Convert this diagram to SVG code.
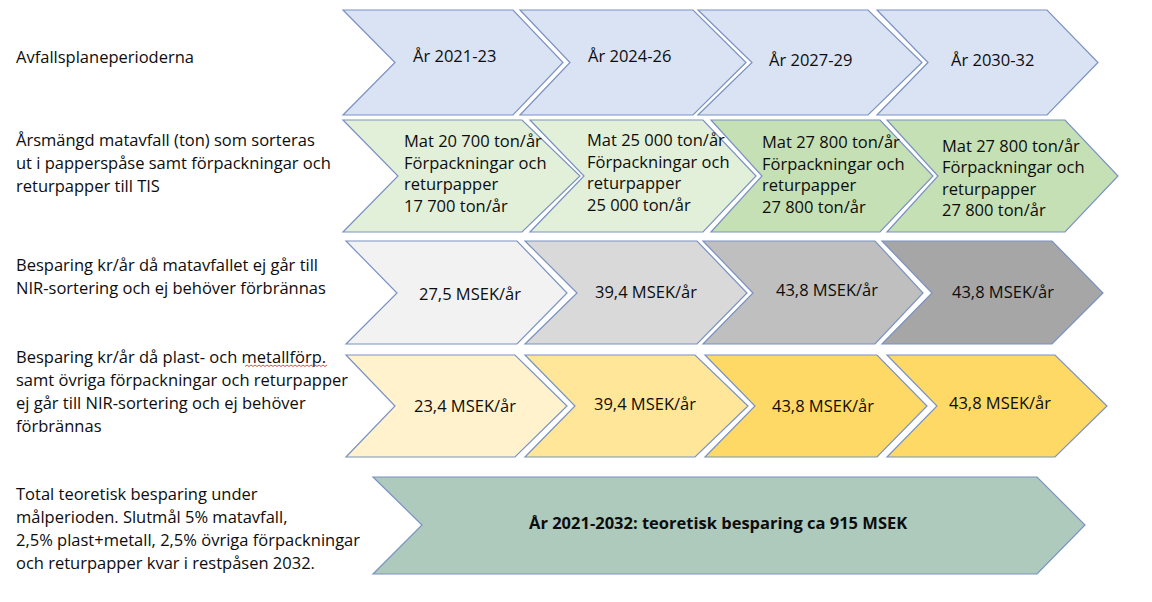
<svg xmlns="http://www.w3.org/2000/svg" width="1152" height="602" viewBox="0 0 1152 602">
<style>
.lbl{font-family:"Open Sans","Liberation Sans",sans-serif;font-size:16.5px;fill:#0d0d0d}
.ch{stroke:#7a92c2;stroke-width:1.2;stroke-linejoin:miter}
.b{font-weight:bold}
.r1{fill:#dae3f3}
.g1{fill:#e2f0d9}.g2{fill:#c5e0b4}
.k1{fill:#f2f2f2}.k2{fill:#d9d9d9}.k3{fill:#bfbfbf}.k4{fill:#a6a6a6}
.y1{fill:#fff2cc}.y2{fill:#ffe699}.y3{fill:#ffd966}
.t1{fill:#aecabd}
</style>
<rect width="1152" height="602" fill="#ffffff"/>
<g id="row-labels">
<text class="lbl" x="16" y="63">Avfallsplaneperioderna</text>
<text class="lbl" x="16" y="145.5">Årsmängd matavfall (ton) som sorteras</text>
<text class="lbl" x="16" y="168.5">ut i papperspåse samt förpackningar och</text>
<text class="lbl" x="16" y="191.5">returpapper till TIS</text>
<text class="lbl" x="16" y="270.5">Besparing kr/år då matavfallet ej går till</text>
<text class="lbl" x="16" y="293.5">NIR-sortering och ej behöver förbrännas</text>
<text class="lbl" x="16" y="362.5">Besparing kr/år då plast- och metallförp.</text>
<text class="lbl" x="16" y="385.5">samt övriga förpackningar och returpapper</text>
<text class="lbl" x="16" y="408.5">ej går till NIR-sortering och ej behöver</text>
<text class="lbl" x="16" y="431.5">förbrännas</text>
<path d="M245,366.5 l2,-1.5 2,1.5 2,-1.5 2,1.5 2,-1.5 2,1.5 2,-1.5 2,1.5 2,-1.5 2,1.5 2,-1.5 2,1.5 2,-1.5 2,1.5 2,-1.5 2,1.5 2,-1.5 2,1.5 2,-1.5 2,1.5 2,-1.5 2,1.5 2,-1.5 2,1.5 2,-1.5 2,1.5 2,-1.5 2,1.5 2,-1.5 2,1.5 2,-1.5 2,1.5 2,-1.5 2,1.5 2,-1.5 2,1.5 2,-1.5 2,1.5 2,-1.5 2,1.5 2,-1.5" fill="none" stroke="#e02020" stroke-width="0.8"/>
<text class="lbl" x="16" y="500">Total teoretisk besparing under</text>
<text class="lbl" x="16" y="523">målperioden. Slutmål 5% matavfall,</text>
<text class="lbl" x="16" y="546">2,5% plast+metall, 2,5% övriga förpackningar</text>
<text class="lbl" x="16" y="569">och returpapper kvar i restpåsen 2032.</text>
</g>
<g id="period-2021-23"><polygon class="ch r1" points="343,10 513,10 563,62.5 513,115 343,115 395,62.5"/><text class="lbl" x="413" y="62">År 2021-23</text></g>
<g id="period-2024-26"><polygon class="ch r1" points="520,10 693,10 746,62.5 693,115 520,115 570,62.5"/><text class="lbl" x="588" y="62">År 2024-26</text></g>
<g id="period-2027-29"><polygon class="ch r1" points="698,10 868,10 922,62.5 868,115 698,115 752,62.5"/><text class="lbl" x="769" y="66">År 2027-29</text></g>
<g id="period-2030-32"><polygon class="ch r1" points="877,10 1047,10 1098,62.5 1047,115 877,115 928,62.5"/><text class="lbl" x="951" y="66">År 2030-32</text></g>

<g id="mangd-1"><polygon class="ch g1" points="343,120 522,120 580,176 522,232 343,232 398,176"/>
<text class="lbl" x="404" y="147">Mat 20 700 ton/år</text><text class="lbl" x="404" y="168.5">Förpackningar och</text><text class="lbl" x="404" y="190">returpapper</text><text class="lbl" x="404" y="211.5">17 700 ton/år</text></g>
<g id="mangd-2"><polygon class="ch g1" points="530,120 703,120 756,176 703,232 530,232 584,176"/>
<text class="lbl" x="587" y="146">Mat 25 000 ton/år</text><text class="lbl" x="587" y="167.5">Förpackningar och</text><text class="lbl" x="587" y="189">returpapper</text><text class="lbl" x="587" y="210.5">25 000 ton/år</text></g>
<g id="mangd-3"><polygon class="ch g2" points="711,120 880,120 933,176 880,232 711,232 762,176"/>
<text class="lbl" x="762" y="148">Mat 27 800 ton/år</text><text class="lbl" x="762" y="169.5">Förpackningar och</text><text class="lbl" x="762" y="191">returpapper</text><text class="lbl" x="762" y="212.5">27 800 ton/år</text></g>
<g id="mangd-4"><polygon class="ch g2" points="887,120 1065,120 1118,176 1065,232 887,232 938,176"/>
<text class="lbl" x="942" y="151.5">Mat 27 800 ton/år</text><text class="lbl" x="942" y="173">Förpackningar och</text><text class="lbl" x="942" y="194.5">returpapper</text><text class="lbl" x="942" y="216">27 800 ton/år</text></g>

<g id="mat-1"><polygon class="ch k1" points="346,241 517,241 567,293 517,344 346,344 397,293"/><text class="lbl" x="419" y="300">27,5 MSEK/år</text></g>
<g id="mat-2"><polygon class="ch k2" points="525,241 697,241 747,293 697,344 525,344 577,293"/><text class="lbl" x="595" y="298">39,4 MSEK/år</text></g>
<g id="mat-3"><polygon class="ch k3" points="703,241 875,241 923,293 875,344 703,344 753,293"/><text class="lbl" x="776" y="295.5">43,8 MSEK/år</text></g>
<g id="mat-4"><polygon class="ch k4" points="882,241 1052,241 1103,293 1052,344 882,344 932,293"/><text class="lbl" x="952" y="297.5">43,8 MSEK/år</text></g>

<g id="forp-1"><polygon class="ch y1" points="346,355 515,355 567,406 515,457 346,457 395,406"/><text class="lbl" x="414" y="411.5">23,4 MSEK/år</text></g>
<g id="forp-2"><polygon class="ch y2" points="525,355 695,355 748,406 695,457 525,457 575,406"/><text class="lbl" x="594" y="410">39,4 MSEK/år</text></g>
<g id="forp-3"><polygon class="ch y3" points="705,355 877,355 927,406 877,457 705,457 755,406"/><text class="lbl" x="772" y="411.5">43,8 MSEK/år</text></g>
<g id="forp-4"><polygon class="ch y3" points="887,355 1055,355 1107,406 1055,457 887,457 937,406"/><text class="lbl" x="949" y="409">43,8 MSEK/år</text></g>

<g id="total"><polygon class="ch t1" points="373,477 1037,477 1085,525 1037,574 373,574 422,525"/><text class="lbl b" x="529" y="528.5">År 2021-2032: teoretisk besparing ca 915 MSEK</text></g>
<g id="connectors"/>
</svg>
